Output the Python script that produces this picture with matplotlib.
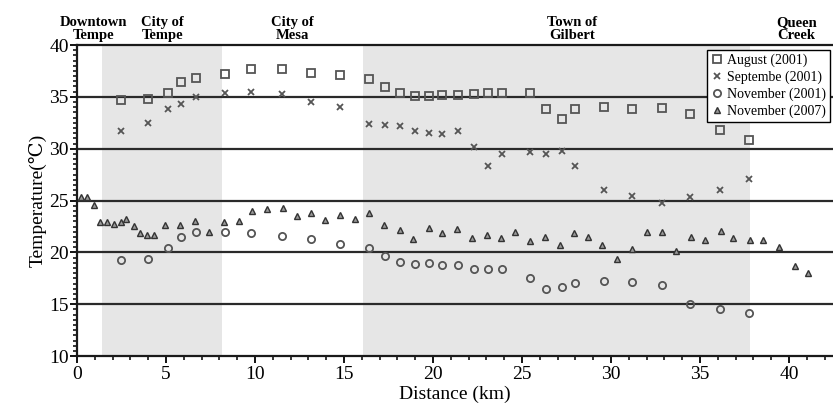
import matplotlib
matplotlib.use("Agg")
import matplotlib.pyplot as plt
from matplotlib.ticker import MultipleLocator

plt.rcParams['font.family'] = ['Liberation Serif', 'DejaVu Serif']

# distances (km) of the 2001 traverse stops, shared by the three 2001 series
dist_2001 = [2.45, 3.98, 5.10, 5.86, 6.71, 8.31, 9.80, 11.52, 13.15, 14.76,
             16.42, 17.28, 18.17, 18.99, 19.77, 20.50, 21.40, 22.32, 23.07, 23.87,
             25.44, 26.32, 27.22, 27.98, 29.58, 31.16, 32.88, 34.42, 36.14, 37.77]
aug_2001 = [34.66, 34.82, 35.40, 36.43, 36.85, 37.17, 37.65, 37.65, 37.27, 37.07,
            36.70, 35.98, 35.34, 35.10, 35.05, 35.14, 35.14, 35.27, 35.34, 35.40,
            35.40, 33.79, 32.86, 33.85, 34.02, 33.79, 33.95, 33.34, 31.80, 30.80]
sep_2001 = [31.67, 32.50, 33.82, 34.30, 34.95, 35.34, 35.43, 35.27, 34.53, 34.02,
            32.35, 32.25, 32.18, 31.70, 31.48, 31.38, 31.70, 30.18, 28.35, 29.50,
            29.70, 29.50, 29.77, 28.32, 26.00, 25.43, 24.72, 25.30, 26.00, 27.04]
nov_2001 = [19.31, 19.34, 20.47, 21.47, 21.98, 21.98, 21.88, 21.63, 21.25, 20.86,
            20.47, 19.70, 19.05, 18.86, 18.96, 18.76, 18.76, 18.38, 18.41, 18.38,
            17.58, 16.45, 16.71, 17.06, 17.29, 17.15, 16.90, 15.05, 14.50, 14.13]

dist_2007 = [0.21, 0.56, 0.94, 1.31, 1.71, 2.06, 2.46, 2.78, 3.19, 3.52,
             3.93, 4.31, 4.97, 5.77, 6.63, 7.42, 8.26, 9.12, 9.81, 10.69,
             11.56, 12.36, 13.17, 13.93, 14.76, 15.64, 16.40, 17.27, 18.13, 18.88,
             19.76, 20.51, 21.33, 22.19, 23.02, 23.84, 24.59, 25.43, 26.29, 27.15,
             27.90, 28.69, 29.52, 30.36, 31.16, 32.01, 32.88, 33.64, 34.48, 35.30,
             36.16, 36.84, 37.79, 38.55, 39.41, 40.36, 41.09]
nov_2007 = [25.36, 25.30, 24.58, 22.89, 22.89, 22.75, 22.92, 23.24, 22.56, 21.85,
            21.66, 21.66, 22.66, 22.66, 23.01, 21.98, 22.95, 23.01, 23.98, 24.17,
            24.30, 23.56, 23.82, 23.10, 23.60, 23.20, 23.82, 22.63, 22.21, 21.27,
            22.34, 21.88, 22.30, 21.37, 21.69, 21.40, 21.95, 21.11, 21.50, 20.73,
            21.85, 21.47, 20.73, 19.37, 20.34, 21.95, 21.95, 20.15, 21.50, 21.24,
            22.02, 21.37, 21.18, 21.18, 20.57, 18.70, 18.06]

shaded_spans = [(1.4, 8.15), (16.05, 37.8)]
place_names = ["Downtown\nTempe", "City of\nTempe", "City of\nMesa",
               "Town of\nGilbert", "Queen\nCreek"]
place_pos = [0.95, 4.8, 12.1, 27.8, 40.4]

fig = plt.figure(figsize=(8.33, 4.19), dpi=100)
ax = fig.add_axes([0.0924, 0.150, 0.9076, 0.7426])

for lo, hi in shaded_spans:
    ax.axvspan(lo, hi, color="#e6e6e6", lw=0, zorder=0)
for yv in [15, 20, 25, 30, 35]:
    ax.axhline(yv, color="#2a2a2a", lw=1.6, zorder=1)

mc = "#555555"
ax.plot(dist_2001, aug_2001, ls="none", marker="s", ms=6, mfc="none",
        mec=mc, mew=1.3, label="August (2001)", zorder=3)
ax.plot(dist_2001, sep_2001, ls="none", marker="x", ms=5, mec=mc, mew=1.3,
        label="Septembe (2001)", zorder=3)
ax.plot(dist_2001, nov_2001, ls="none", marker="o", ms=5.2, mfc="none",
        mec=mc, mew=1.3, label="November (2001)", zorder=3)
ax.plot(dist_2007, nov_2007, ls="none", marker="^", ms=4.8, mfc="#9a9a9a",
        mec="#333333", mew=1.0, label="November (2007)", zorder=3)

ax.set_xlim(0, 42.47)
ax.set_ylim(10, 40)
ax.xaxis.set_major_locator(MultipleLocator(5))
ax.xaxis.set_minor_locator(MultipleLocator(1))
ax.yaxis.set_major_locator(MultipleLocator(5))
ax.yaxis.set_minor_locator(MultipleLocator(0.5))
ax.tick_params(which="major", direction="out", length=5, width=1.3,
               labelsize=14, pad=2)
ax.tick_params(axis="y", which="major", pad=1)
ax.tick_params(which="minor", direction="out", length=3, width=1.1)
ax.spines["right"].set_visible(False)
for s in ["left", "bottom", "top"]:
    ax.spines[s].set_linewidth(1.6)
    ax.spines[s].set_color("#1a1a1a")

ax.set_xlabel("Distance (km)", fontsize=14, labelpad=2)
ax.set_ylabel("Temperature(℃)", fontsize=14, labelpad=2)

for name, xp in zip(place_names, place_pos):
    ax.text(xp, 1.01, name, transform=ax.get_xaxis_transform(), ha="center",
            va="bottom", fontsize=10.5, fontweight="bold", linespacing=0.95,
            clip_on=False)

leg = ax.legend(loc="upper left", bbox_to_anchor=(0.833, 0.985), fontsize=10,
                frameon=True, fancybox=False, borderpad=0.3, labelspacing=0.25,
                handletextpad=0.25, handlelength=0.9, borderaxespad=0)
leg.get_frame().set_edgecolor("black")
leg.get_frame().set_linewidth(1.0)
leg.get_frame().set_alpha(1)

fig.savefig("out.png", dpi=100)
